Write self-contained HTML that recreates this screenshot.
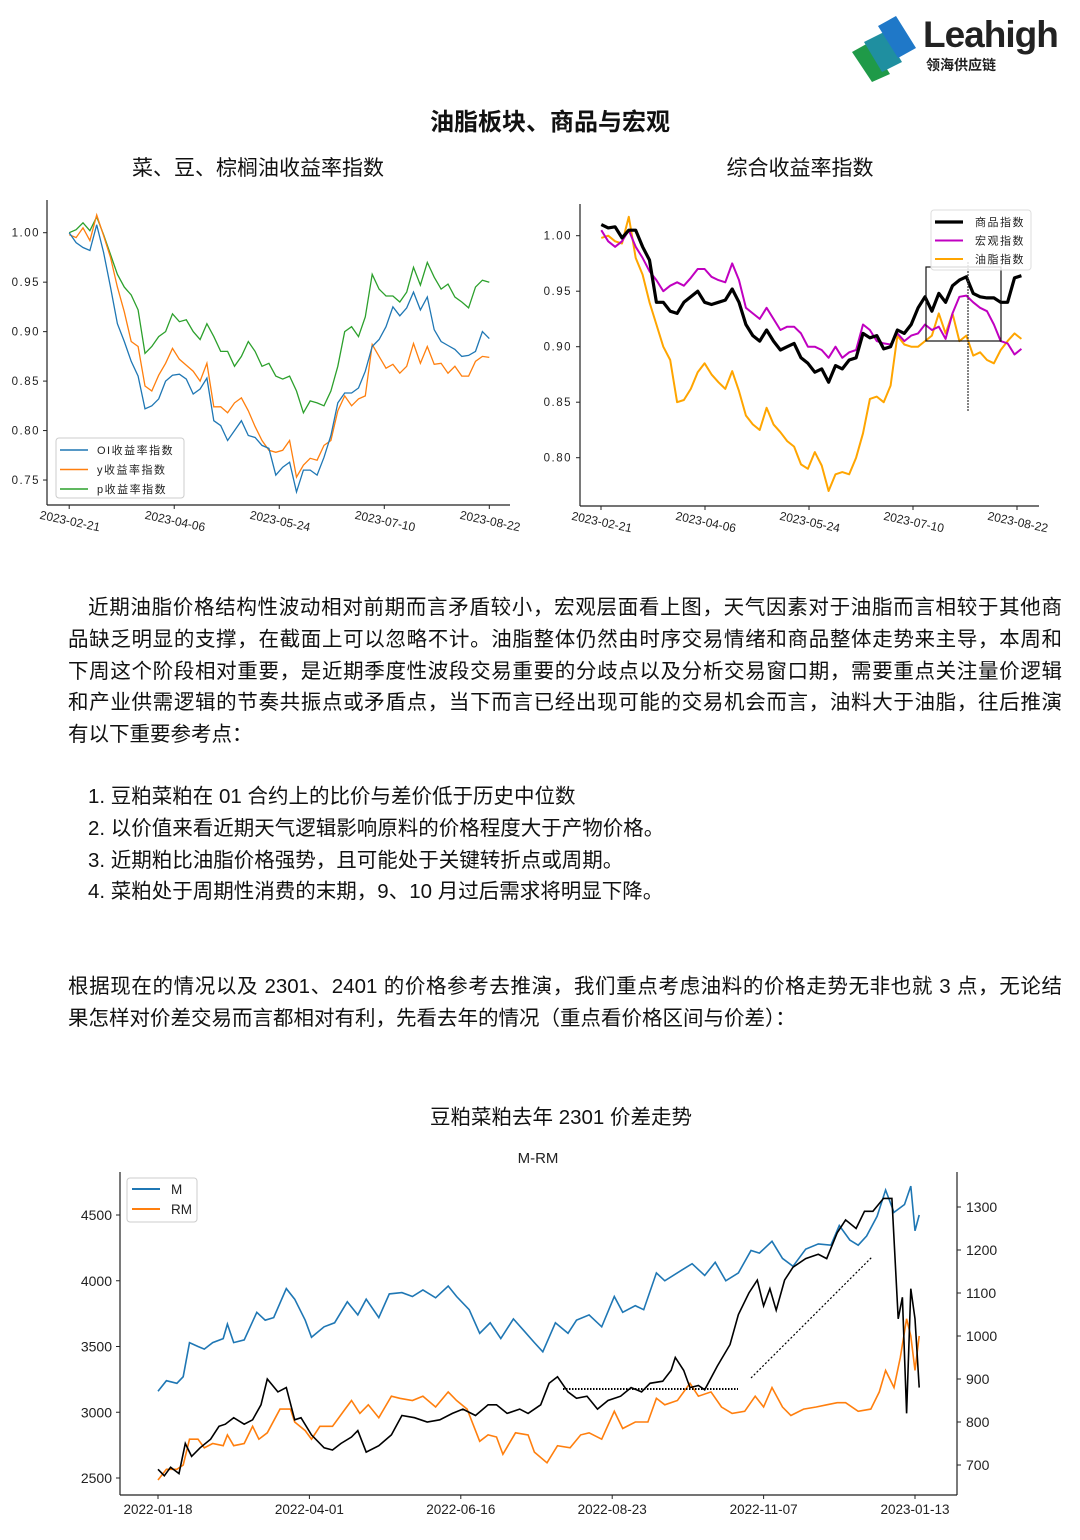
<!DOCTYPE html>
<html><head><meta charset="utf-8">
<style>
body{margin:0;background:#fff;}
#page{position:relative;width:1080px;height:1540px;overflow:hidden;background:#fff;font-family:"Liberation Sans","Noto Sans CJK SC",sans-serif;color:#111;}
.t{position:absolute;white-space:nowrap;}
.jl{position:absolute;left:68px;width:994px;font-size:20.5px;line-height:24px;text-align:justify;text-align-last:justify;white-space:nowrap;}
.ln{position:absolute;font-size:20.5px;line-height:24px;white-space:nowrap;}
svg text{font-family:"Liberation Sans","Noto Sans CJK SC",sans-serif;}
</style></head><body>
<div id="page">
<svg id="logo" style="position:absolute;left:850px;top:12px" width="70" height="70" viewBox="0 0 70 70">
 <polygon points="2,40 20,30 40,62 22,70" fill="#1f9a48"/>
 <polygon points="14,30 34,20 52,50 32,60" fill="#1f8fa0"/>
 <polygon points="28,14 46,4 66,36 48,46" fill="#1f78c8"/>
</svg>
<div class="t" style="left:923px;top:14px;font-size:37px;font-weight:bold;color:#222;letter-spacing:-1px">Leahigh</div>
<div class="t" style="left:926px;top:55px;font-size:14px;font-weight:bold;color:#222">领海供应链</div>

<div class="t" style="left:0;width:1100px;text-align:center;top:102px;font-size:24px;font-weight:bold">油脂板块、商品与宏观</div>
<div class="t" style="left:108px;width:300px;text-align:center;top:152px;font-size:21px">菜、豆、棕榈油收益率指数</div>
<div class="t" style="left:650px;width:300px;text-align:center;top:152px;font-size:21px">综合收益率指数</div>

<svg id="charts" style="position:absolute;left:0;top:0" width="1080" height="1540"></svg>

<div class="ln" style="left:88px;width:974px;top:596px;text-align:justify;text-align-last:justify">近期油脂价格结构性波动相对前期而言矛盾较小，宏观层面看上图，天气因素对于油脂而言相较于其他商</div>
<div class="jl" style="top:628px">品缺乏明显的支撑，在截面上可以忽略不计。油脂整体仍然由时序交易情绪和商品整体走势来主导，本周和</div>
<div class="jl" style="top:660px">下周这个阶段相对重要，是近期季度性波段交易重要的分歧点以及分析交易窗口期，需要重点关注量价逻辑</div>
<div class="jl" style="top:691px">和产业供需逻辑的节奏共振点或矛盾点，当下而言已经出现可能的交易机会而言，油料大于油脂，往后推演</div>
<div class="ln" style="left:68px;top:723px">有以下重要参考点：</div>

<div class="ln" style="left:88px;top:785px">1. 豆粕菜粕在 01 合约上的比价与差价低于历史中位数</div>
<div class="ln" style="left:88px;top:817px">2. 以价值来看近期天气逻辑影响原料的价格程度大于产物价格。</div>
<div class="ln" style="left:88px;top:849px">3. 近期粕比油脂价格强势，且可能处于关键转折点或周期。</div>
<div class="ln" style="left:88px;top:880px">4. 菜粕处于周期性消费的末期，9、10 月过后需求将明显下降。</div>

<div class="jl" style="top:975px">根据现在的情况以及 2301、2401 的价格参考去推演，我们重点考虑油料的价格走势无非也就 3 点，无论结</div>
<div class="ln" style="left:68px;top:1007px">果怎样对价差交易而言都相对有利，先看去年的情况（重点看价格区间与价差）：</div>

<div class="t" style="left:361px;width:400px;text-align:center;top:1100px;font-size:20.5px">豆粕菜粕去年 2301 价差走势</div>

<script>
// ---------- Left chart data ----------
const leftTicks = ["2023-02-21","2023-04-06","2023-05-24","2023-07-10","2023-08-22"];
const leftYTicks = [1.00,0.95,0.90,0.85,0.80,0.75];
const oiVals = [1.000,0.99,0.985,0.982,1.008,0.98,0.945,0.908,0.89,0.87,0.855,0.822,0.825,0.832,0.85,0.856,0.857,0.852,0.837,0.842,0.853,0.81,0.805,0.79,0.8,0.81,0.795,0.793,0.785,0.782,0.755,0.763,0.768,0.738,0.76,0.76,0.755,0.773,0.795,0.828,0.838,0.838,0.843,0.86,0.885,0.892,0.905,0.925,0.916,0.924,0.94,0.922,0.935,0.902,0.89,0.886,0.882,0.875,0.876,0.88,0.9,0.893];
const yVals = [0.998,0.995,1.005,0.992,1.018,0.997,0.975,0.945,0.92,0.89,0.885,0.845,0.84,0.856,0.868,0.883,0.872,0.866,0.86,0.85,0.868,0.824,0.824,0.818,0.828,0.833,0.82,0.804,0.79,0.78,0.778,0.78,0.79,0.753,0.765,0.772,0.77,0.785,0.79,0.82,0.835,0.825,0.832,0.835,0.887,0.875,0.863,0.867,0.858,0.865,0.888,0.868,0.885,0.867,0.868,0.858,0.865,0.855,0.855,0.87,0.875,0.874];
const pVals = [1.0,1.003,1.01,1.002,1.016,0.998,0.978,0.958,0.945,0.937,0.922,0.878,0.885,0.895,0.9,0.918,0.91,0.912,0.9,0.892,0.908,0.895,0.88,0.88,0.865,0.875,0.89,0.88,0.865,0.868,0.855,0.852,0.855,0.84,0.818,0.83,0.828,0.825,0.84,0.865,0.9,0.905,0.895,0.915,0.958,0.943,0.936,0.936,0.93,0.94,0.965,0.947,0.97,0.955,0.943,0.948,0.935,0.93,0.924,0.945,0.952,0.95];

// ---------- Right chart data ----------
const rightTicks = ["2023-02-21","2023-04-06","2023-05-24","2023-07-10","2023-08-22"];
const rightYTicks = [1.00,0.95,0.90,0.85,0.80];
const commodityVals = [1.01,1.007,1.008,0.998,1.005,1.005,0.99,0.978,0.94,0.94,0.932,0.93,0.94,0.945,0.95,0.94,0.938,0.94,0.942,0.952,0.94,0.92,0.91,0.905,0.915,0.905,0.897,0.9,0.903,0.89,0.885,0.877,0.88,0.868,0.883,0.88,0.888,0.89,0.912,0.908,0.91,0.898,0.9,0.915,0.912,0.92,0.935,0.945,0.932,0.948,0.94,0.955,0.96,0.963,0.948,0.945,0.944,0.944,0.94,0.94,0.962,0.964];
const macroVals = [1.005,0.995,0.99,0.995,1.005,0.99,0.98,0.968,0.96,0.95,0.955,0.958,0.955,0.962,0.97,0.97,0.963,0.96,0.958,0.975,0.96,0.935,0.93,0.925,0.935,0.925,0.915,0.918,0.918,0.912,0.9,0.9,0.897,0.89,0.9,0.89,0.895,0.897,0.92,0.915,0.905,0.903,0.902,0.912,0.905,0.91,0.912,0.92,0.915,0.918,0.907,0.93,0.945,0.946,0.94,0.935,0.932,0.92,0.905,0.903,0.893,0.898];
const oilVals = [0.998,1.0,0.995,0.993,1.017,0.98,0.965,0.94,0.92,0.9,0.888,0.85,0.852,0.862,0.877,0.885,0.875,0.868,0.862,0.878,0.86,0.838,0.83,0.825,0.845,0.83,0.823,0.815,0.81,0.794,0.79,0.805,0.793,0.77,0.785,0.787,0.785,0.8,0.822,0.853,0.855,0.85,0.865,0.91,0.902,0.9,0.9,0.905,0.91,0.93,0.912,0.93,0.905,0.91,0.892,0.895,0.888,0.885,0.897,0.905,0.912,0.907];

// ---------- Bottom chart data (days since 2022-01-18) ----------
const bottomTicks = ["2022-01-18","2022-04-01","2022-06-16","2022-08-23","2022-11-07","2023-01-13"];
const bottomTickDays = [0,72,144,216,288,360];
const leftAxisTicks = [4500,4000,3500,3000,2500];
const rightAxisTicks = [1300,1200,1100,1000,900,800,700];
const mDays = [0,4,9,12,15,19,22,26,31,33,36,41,47,51,55,61,65,70,73,79,84,90,95,99,105,110,116,121,126,132,138,142,148,153,158,163,169,174,179,183,189,195,199,205,211,217,221,227,231,237,241,249,254,260,265,270,276,282,286,292,297,302,308,314,320,324,329,333,337,342,346,350,355,358,360,362];
const mVals = [3160,3240,3220,3270,3530,3500,3480,3530,3560,3670,3530,3550,3760,3700,3720,3940,3860,3700,3570,3650,3680,3840,3740,3860,3720,3900,3910,3880,3930,3870,3960,3880,3780,3600,3680,3560,3710,3620,3530,3460,3680,3600,3700,3740,3650,3880,3760,3810,3780,4060,4000,4080,4130,4040,4140,4000,4060,4230,4210,4300,4170,4110,4240,4280,4270,4420,4310,4270,4340,4490,4690,4520,4580,4720,4380,4500];
const rmDays = [0,4,9,12,15,19,22,26,31,33,36,41,45,48,52,58,63,65,70,73,77,83,89,92,96,100,105,111,115,121,126,132,138,142,147,153,157,161,164,170,176,179,185,190,196,201,205,211,217,221,227,233,237,241,247,253,257,263,268,273,279,284,288,292,297,301,307,313,318,323,327,333,339,343,346,350,353,356,358,360,362];
const rmVals = [665,690,690,700,760,760,740,750,745,770,745,750,790,760,775,830,830,800,780,760,790,790,830,850,820,840,810,860,855,850,860,835,870,850,830,755,770,765,725,775,770,730,705,745,740,770,775,760,825,785,800,800,855,840,850,890,860,870,835,820,825,860,835,880,835,815,830,835,840,845,845,825,830,870,920,880,950,1040,1000,920,1000];
const spreadDays = [0,3,6,10,13,16,20,25,29,32,36,41,45,49,52,57,61,65,68,73,79,83,87,92,95,99,105,111,116,122,128,134,140,145,151,157,161,166,172,176,182,186,190,195,199,204,209,214,220,225,230,234,240,244,246,250,253,257,260,266,272,276,281,285,288,291,294,298,302,308,314,318,323,327,332,336,340,345,349,352,354,356,358,360,362];
const spreadVals = [690,675,695,680,750,720,740,760,790,795,810,795,805,840,900,870,880,805,810,770,740,735,750,765,780,730,745,770,815,810,800,805,820,830,815,840,840,820,830,820,840,890,905,870,855,860,830,850,860,880,870,890,895,920,950,920,880,885,875,930,980,1050,1100,1130,1070,1110,1060,1130,1160,1180,1190,1180,1240,1270,1250,1290,1290,1320,1320,1040,1090,820,1110,1040,880];

const NS = "http://www.w3.org/2000/svg";
const svg = document.getElementById('charts');
function mk(tag, attrs, parent){
  const e = document.createElementNS(NS, tag);
  for (const k in attrs) e.setAttribute(k, attrs[k]);
  (parent||svg).appendChild(e);
  return e;
}
function pathFrom(xs, ys){
  let d = '';
  for (let i=0;i<xs.length;i++) d += (i?'L':'M') + xs[i].toFixed(1) + ',' + ys[i].toFixed(1);
  return d;
}

// ===== Left chart =====
const L = {x0:69.2, dx:6.887, y0:232.7, k:989.3};
const lx = i => L.x0 + i*L.dx;
const ly = v => L.y0 + (1-v)*L.k;
let e;
e = mk('line',{x1:47,y1:200,x2:47,y2:505,stroke:'#222','stroke-width':1.2});


e = mk('line',{x1:47,y1:505,x2:510,y2:505,stroke:'#222','stroke-width':1.2});


leftYTicks.forEach(v=>{
  const y = ly(v);
  mk('line',{x1:43,y1:y,x2:47,y2:y,stroke:'#222'});
  const t = mk('text',{x:40,y:y+4,'font-size':11.5,'text-anchor':'end',fill:'#222','letter-spacing':'1.5'});
  t.textContent = v.toFixed(2);
  
  
});
leftTicks.forEach((s,i)=>{
  const x = lx(i*61/4);
  mk('line',{x1:x,y1:505,x2:x,y2:509,stroke:'#222'});
  const t = mk('text',{x:x,y:525,'font-size':12,'text-anchor':'middle',fill:'#222',transform:`rotate(12 ${x} 525)`});
  t.textContent = s;
  
  
});
[[pVals,'#2ca02c','p-index-line'],[yVals,'#ff7f0e','y-index-line'],[oiVals,'#1f77b4','oi-index-line']].forEach(([vals,c,n])=>{
  const p = mk('path',{d:pathFrom(vals.map((v,i)=>lx(i)), vals.map(ly)),fill:'none',stroke:c,'stroke-width':1.3});
  
  
});
e = mk('rect',{x:56,y:438,width:128,height:60,fill:'#fff','fill-opacity':0.85,stroke:'#ccc',rx:3});


[['OI收益率指数','#1f77b4'],['y收益率指数','#ff7f0e'],['p收益率指数','#2ca02c']].forEach(([s,c],i)=>{
  const y = 450 + i*19.5;
  mk('line',{x1:60,y1:y,x2:88,y2:y,stroke:c,'stroke-width':1.5});
  const t = mk('text',{x:97,y:y+4,'font-size':11,fill:'#222','letter-spacing':'1.5'});
  t.textContent = s;
  
  
});

// ===== Right chart =====
const R = {x0:601.3, dx:6.887, y0:235.7, k:1110};
const rx = i => R.x0 + i*R.dx;
const ry = v => R.y0 + (1-v)*R.k;
e = mk('line',{x1:580,y1:204,x2:580,y2:506,stroke:'#222','stroke-width':1.2});


e = mk('line',{x1:580,y1:506,x2:1039,y2:506,stroke:'#222','stroke-width':1.2});


rightYTicks.forEach(v=>{
  const y = ry(v);
  mk('line',{x1:576,y1:y,x2:580,y2:y,stroke:'#222'});
  const t = mk('text',{x:572,y:y+4,'font-size':11.5,'text-anchor':'end',fill:'#222','letter-spacing':'1.5'});
  t.textContent = v.toFixed(2);
  
  
});
rightTicks.forEach((s,i)=>{
  const x = 601 + i*104;
  mk('line',{x1:x,y1:506,x2:x,y2:510,stroke:'#222'});
  const t = mk('text',{x:x,y:526,'font-size':12,'text-anchor':'middle',fill:'#222',transform:`rotate(12 ${x} 526)`});
  t.textContent = s;
  
  
});
[[oilVals,'#ffa500',2,'oil-index-line'],[macroVals,'#c000c0',2,'macro-index-line'],[commodityVals,'#000',3.2,'commodity-index-line']].forEach(([vals,c,w,n])=>{
  const p = mk('path',{d:pathFrom(vals.map((v,i)=>rx(i)), vals.map(ry)),fill:'none',stroke:c,'stroke-width':w,'stroke-linejoin':'round'});
  
  
});
e = mk('rect',{x:926,y:267,width:75,height:74,fill:'none',stroke:'#111','stroke-width':1.2});


e = mk('line',{x1:968,y1:262,x2:968,y2:411,stroke:'#333','stroke-width':1.2,'stroke-dasharray':'2,1'});


e = mk('rect',{x:931,y:210,width:100,height:60,fill:'#fff','fill-opacity':0.85,stroke:'#ddd',rx:3});


[['商品指数','#000',3.2],['宏观指数','#c000c0',2],['油脂指数','#ffa500',2]].forEach(([s,c,w],i)=>{
  const y = 222 + i*18.5;
  mk('line',{x1:935,y1:y,x2:963,y2:y,stroke:c,'stroke-width':w});
  const t = mk('text',{x:975,y:y+4,'font-size':11,fill:'#222','letter-spacing':'1.5'});
  t.textContent = s;
  
  
});

// ===== Bottom chart =====
const bx = d => 158 + d*(757/360);
const byL = v => 1215 + (4500-v)*0.1315;
const byR = v => 1207 + (1300-v)*0.43;
e = mk('text',{x:538,y:1163,'font-size':15,'text-anchor':'middle',fill:'#222'});
e.textContent = 'M-RM';


e = mk('line',{x1:120,y1:1172,x2:120,y2:1495,stroke:'#222','stroke-width':1.2});


e = mk('line',{x1:957,y1:1172,x2:957,y2:1495,stroke:'#222','stroke-width':1.2});


e = mk('line',{x1:120,y1:1495,x2:957,y2:1495,stroke:'#222','stroke-width':1.2});


leftAxisTicks.forEach(v=>{
  const y = byL(v);
  mk('line',{x1:116,y1:y,x2:120,y2:y,stroke:'#222'});
  const t = mk('text',{x:112,y:y+5,'font-size':14,'text-anchor':'end',fill:'#222'});
  t.textContent = v;
  
  
});
rightAxisTicks.forEach(v=>{
  const y = byR(v);
  mk('line',{x1:957,y1:y,x2:961,y2:y,stroke:'#222'});
  const t = mk('text',{x:966,y:y+5,'font-size':14,fill:'#222'});
  t.textContent = v;
  
  
});
bottomTicks.forEach((s,i)=>{
  const x = bx(bottomTickDays[i]);
  mk('line',{x1:x,y1:1495,x2:x,y2:1499,stroke:'#222'});
  const t = mk('text',{x:x,y:1514,'font-size':13.5,'text-anchor':'middle',fill:'#222'});
  t.textContent = s;
  
  
});
let p;
p = mk('path',{d:pathFrom(mDays.map(bx), mVals.map(byL)),fill:'none',stroke:'#1f77b4','stroke-width':1.6});


p = mk('path',{d:pathFrom(rmDays.map(bx), rmVals.map(byR)),fill:'none',stroke:'#ff7f0e','stroke-width':1.6});


p = mk('path',{d:pathFrom(spreadDays.map(bx), spreadVals.map(byR)),fill:'none',stroke:'#000','stroke-width':1.6});


e = mk('line',{x1:563,y1:1389,x2:738,y2:1389,stroke:'#000','stroke-width':2,'stroke-dasharray':'1.5,1.5'});


e = mk('line',{x1:751,y1:1378,x2:872,y2:1257,stroke:'#000','stroke-width':1.2,'stroke-dasharray':'2,2'});


e = mk('rect',{x:127,y:1178,width:70,height:44,fill:'#fff','fill-opacity':0.85,stroke:'#ccc',rx:3});


[['M','#1f77b4'],['RM','#ff7f0e']].forEach(([s,c],i)=>{
  const y = 1189 + i*20;
  mk('line',{x1:132,y1:y,x2:160,y2:y,stroke:c,'stroke-width':2});
  const t = mk('text',{x:171,y:y+5,'font-size':13.5,fill:'#222'});
  t.textContent = s;
  
  
});
</script>
</div>
</body></html>
